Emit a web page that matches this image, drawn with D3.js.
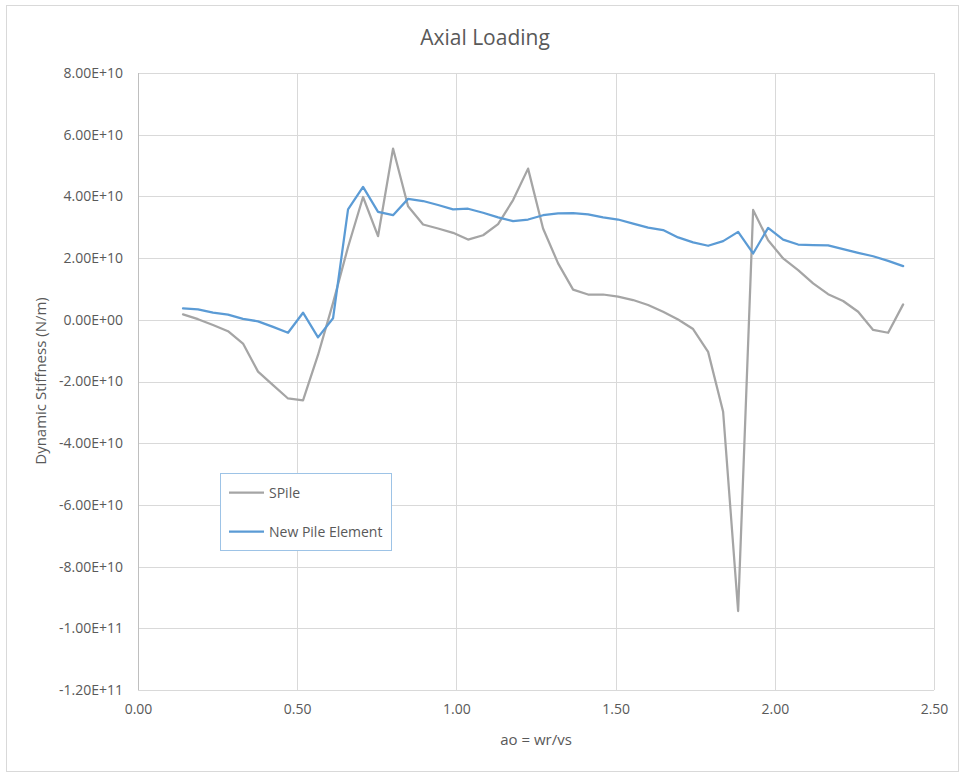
<!DOCTYPE html>
<html>
<head>
<meta charset="utf-8">
<script src="https://cdn.jsdelivr.net/npm/d3@7"></script>
<style>
  html, body { margin: 0; padding: 0; background: #fff; }
  svg { display: block; }
  text { font-family: "Open Sans", "Noto Sans", sans-serif; fill: #595959; }
</style>
</head>
<body>
<svg id="chart" width="964" height="774"></svg>
<script>
// x = ao = wr/vs (step index * 0.04712)
const xIndex = [3,4,5,6,7,8,9,10,11,12,13,14,15,16,17,18,19,20,21,22,23,24,25,26,27,28,29,30,31,32,33,34,35,36,37,38,39,40,41,42,43,44,45,46,47,48,49,50,51];
const xValues = xIndex.map(i => +(i * 0.04712).toFixed(4));

// Dynamic stiffness values, in units of 1E10 N/m
const sPile = [0.175,0.02,-0.17,-0.37,-0.77,-1.68,-2.12,-2.55,-2.61,-1.14,0.55,2.36,3.98,2.71,5.55,3.68,3.09,2.96,2.82,2.60,2.74,3.10,3.88,4.90,2.96,1.83,0.98,0.82,0.82,0.75,0.64,0.48,0.26,0.01,-0.30,-1.04,-2.98,-9.44,3.56,2.58,1.99,1.61,1.18,0.83,0.61,0.26,-0.33,-0.42,0.50];
const newPile = [0.37,0.34,0.23,0.17,0.03,-0.05,-0.23,-0.42,0.23,-0.57,0.05,3.58,4.31,3.50,3.39,3.92,3.85,3.72,3.58,3.60,3.47,3.32,3.20,3.25,3.39,3.45,3.46,3.42,3.32,3.25,3.12,2.99,2.91,2.67,2.51,2.40,2.55,2.85,2.15,2.98,2.60,2.44,2.42,2.41,2.29,2.17,2.06,1.91,1.74];

const seriesNames = ["SPile", "New Pile Element"];
const seriesColors = ["#a5a5a5", "#5b9bd5"];

const yTicks = [8e10,6e10,4e10,2e10,0,-2e10,-4e10,-6e10,-8e10,-1e11,-1.2e11];
const yTickLabels = ["8.00E+10","6.00E+10","4.00E+10","2.00E+10","0.00E+00","-2.00E+10","-4.00E+10","-6.00E+10","-8.00E+10","-1.00E+11","-1.20E+11"];
const xTicks = [0,0.5,1,1.5,2,2.5];
const xTickLabels = ["0.00","0.50","1.00","1.50","2.00","2.50"];

const title = "Axial Loading";
const xTitle = "ao = wr/vs";
const yTitle = "Dynamic Stiffness (N/m)";

const svg = d3.select("#chart");
const plot = {left: 138, right: 934, top: 73, bottom: 690};

// chart border
svg.append("rect").attr("x", 6.5).attr("y", 5.5).attr("width", 952).attr("height", 766)
  .attr("fill", "#fff").attr("stroke", "#d9d9d9").attr("stroke-width", 1);

const x = d3.scaleLinear().domain([0, 2.5]).range([plot.left, plot.right]);
const y = d3.scaleLinear().domain([-1.2e11, 8e10]).range([plot.bottom, plot.top]);

// gridlines
const gridY = d3.axisLeft(y).tickValues(yTicks).tickSize(-(plot.right - plot.left)).tickFormat("");
svg.append("g").attr("transform", `translate(${plot.left},0)`).call(gridY)
  .call(g => g.select(".domain").remove())
  .call(g => g.selectAll("line").attr("stroke", "#d9d9d9").attr("stroke-width", 1).attr("shape-rendering", "crispEdges"));
const gridX = d3.axisBottom(x).tickValues(xTicks).tickSize(-(plot.bottom - plot.top)).tickFormat("");
svg.append("g").attr("transform", `translate(0,${plot.bottom})`).call(gridX)
  .call(g => g.select(".domain").remove())
  .call(g => g.selectAll("line").attr("stroke", "#d9d9d9").attr("stroke-width", 1).attr("shape-rendering", "crispEdges"));

// left axis line
svg.append("line").attr("x1", plot.left).attr("x2", plot.left).attr("y1", plot.top).attr("y2", plot.bottom)
  .attr("stroke", "#bfbfbf").attr("stroke-width", 1).attr("shape-rendering", "crispEdges");

// y axis labels
const yAxis = d3.axisLeft(y).tickValues(yTicks).tickSize(0).tickPadding(15)
  .tickFormat((d, i) => yTickLabels[i]);
svg.append("g").attr("transform", `translate(${plot.left},0)`).call(yAxis)
  .call(g => g.select(".domain").remove())
  .call(g => g.selectAll("text").attr("font-size", 14).attr("font-family", "'Open Sans', sans-serif").attr("fill", "#595959"));

// x axis labels
const xAxis = d3.axisBottom(x).tickValues(xTicks).tickSize(0).tickPadding(14)
  .tickFormat((d, i) => xTickLabels[i]);
svg.append("g").attr("transform", `translate(0,${plot.bottom})`).call(xAxis)
  .call(g => g.select(".domain").remove())
  .call(g => g.selectAll("text").attr("font-size", 14).attr("font-family", "'Open Sans', sans-serif").attr("fill", "#595959"));

// series lines
const line = d3.line().x((d, i) => x(xValues[i])).y(d => y(d * 1e10));
[sPile, newPile].forEach((s, k) => {
  svg.append("path").datum(s).attr("d", line).attr("fill", "none")
    .attr("stroke", seriesColors[k]).attr("stroke-width", 2.25)
    .attr("stroke-linejoin", "round").attr("stroke-linecap", "round");
});

// title
svg.append("text").attr("x", 485).attr("y", 45).attr("text-anchor", "middle")
  .attr("font-size", 21).text(title);

// axis titles
svg.append("text").attr("x", (plot.left + plot.right) / 2).attr("y", 745).attr("text-anchor", "middle")
  .attr("font-size", 15).text(xTitle);
svg.append("text").attr("transform", "translate(46,381) rotate(-90)").attr("text-anchor", "middle")
  .attr("font-size", 15).text(yTitle);

// legend
const lg = svg.append("g");
lg.append("rect").attr("x", 220.5).attr("y", 473.5).attr("width", 171).attr("height", 77)
  .attr("fill", "#fff").attr("stroke", "#9dc3e6").attr("stroke-width", 1);
seriesNames.forEach((n, k) => {
  const ly = 492.5 + k * 39;
  lg.append("line").attr("x1", 229).attr("x2", 264).attr("y1", ly).attr("y2", ly)
    .attr("stroke", seriesColors[k]).attr("stroke-width", 2.25);
  lg.append("text").attr("x", 269).attr("y", ly + 5).attr("font-size", 14).text(n);
});
</script>
</body>
</html>
